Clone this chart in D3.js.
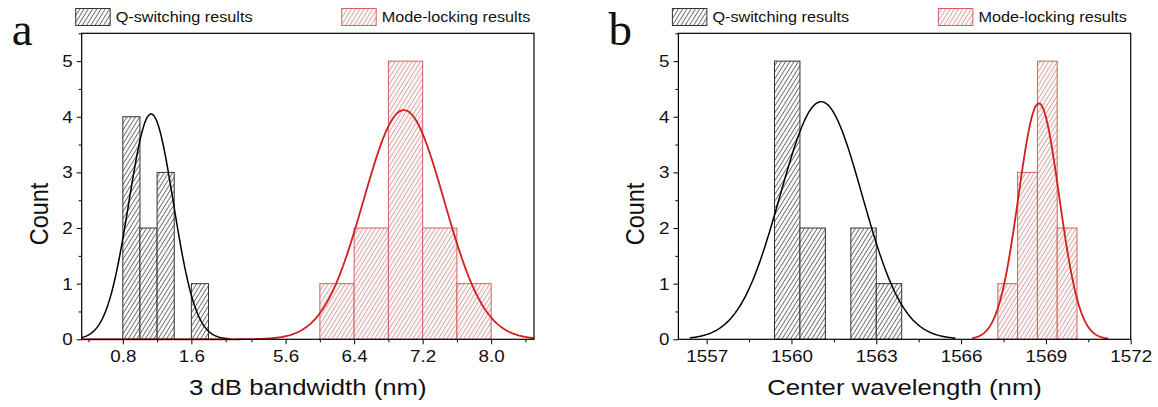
<!DOCTYPE html>
<html><head><meta charset="utf-8">
<script src="https://cdn.jsdelivr.net/npm/d3@7"></script>
<style>body{margin:0;background:#fff} svg{display:block}</style>
</head><body>
<svg id="c" width="1158" height="407"></svg>
<script>
// ---------- data ----------
const bwQEdges = [0.8, 1.0, 1.2, 1.4, 1.6, 1.8];
const bwQCounts = [4, 2, 3, 0, 1];
const bwMEdges = [6.0, 6.4, 6.8, 7.2, 7.6, 8.0];
const bwMCounts = [1, 2, 5, 2, 1];
const wlQEdges = [1559.4, 1560.3, 1561.2, 1562.1, 1563.0, 1563.9];
const wlQCounts = [5, 2, 0, 2, 1];
const wlMEdges = [1567.3, 1568.0, 1568.7, 1569.4, 1570.1];
const wlMCounts = [1, 3, 5, 2];
// Gaussian fit parameters: [center, sigma, amplitude, xStart, xEnd]
const bwQFit = [1.13, 0.26, 4.05, 0.32, 2.05];
const bwMFit = [6.98, 0.47, 4.12, 0.32, 8.5];
const wlQFit = [1561.05, 1.45, 4.27, 1556.4, 1565.8];
const wlMFit = [1568.75, 0.72, 4.24, 1566.4, 1571.2];
const yTicks = [0, 1, 2, 3, 4, 5];
const yMinor = [0.5, 1.5, 2.5, 3.5, 4.5, 5.5];
const bwTicks = [0.8, 1.6, 5.6, 6.4, 7.2, 8.0];
const bwMinor = [0.4, 1.2, 2.0, 5.2, 6.0, 6.8, 7.6, 8.4];
const wlTicks = [1557, 1560, 1563, 1566, 1569, 1572];
const wlMinor = [1558.5, 1561.5, 1564.5, 1567.5, 1570.5];
const legendLabels = ["Q-switching results", "Mode-locking results"];
const panelLabels = ["a", "b"];
const xTitles = ["3 dB bandwidth (nm)", "Center wavelength (nm)"];
const yTitle = "Count";

// ---------- layout ----------
const svg = d3.select("#c");
const TOP = 33.3, BOTTOM = 339.3;
const SX = 1.12; // horizontal text stretch
const FONT = "Arial, 'Liberation Sans', sans-serif";
const RED = "#d21f1f";

const defs = svg.append("defs");
function hatch(id, bg, stroke, sw) {
  const p = defs.append("pattern").attr("id", id).attr("patternUnits", "userSpaceOnUse")
    .attr("width", 3.6).attr("height", 10).attr("patternTransform", "rotate(32)");
  p.append("rect").attr("width", 3.6).attr("height", 10).attr("fill", bg);
  p.append("line").attr("x1", 0.4).attr("x2", 0.4).attr("y1", 0).attr("y2", 10)
    .attr("stroke", stroke).attr("stroke-width", sw);
}
hatch("hq", "#fafafa", "#3a3a3a", 0.75);
hatch("hm", "#fff7f7", "#b07070", 0.6);

const y = d3.scaleLinear().domain([0, 5.5]).range([BOTTOM, TOP]);

const panels = [
  {
    left: 81.7, right: 534, label: panelLabels[0], title: xTitles[0],
    x: d3.scaleLinear().domain([0.32, 2.15, 5.05, 8.5]).range([81.7, 238.5, 238.5, 534]),
    segs: [[0.32, 2.15], [5.05, 8.5]],
    ticks: bwTicks, minor: bwMinor, fmt: d3.format(".1f"),
    q: [bwQEdges, bwQCounts, bwQFit], m: [bwMEdges, bwMCounts, bwMFit]
  },
  {
    left: 678.4, right: 1130.7, label: panelLabels[1], title: xTitles[1],
    x: d3.scaleLinear().domain([1556, 1572]).range([678.4, 1130.7]),
    segs: [[1556, 1572]],
    ticks: wlTicks, minor: wlMinor, fmt: d3.format("d"),
    q: [wlQEdges, wlQCounts, wlQFit], m: [wlMEdges, wlMCounts, wlMFit]
  }
];

function stretchText(sel) {
  sel.attr("transform", `scale(${SX},1)`);
}

panels.forEach(P => {
  const g = svg.append("g");
  const x = P.x;

  // bars
  function bars(spec, fill, stroke) {
    const [edges, counts] = spec;
    const data = counts.map((c, i) => ({x0: edges[i], x1: edges[i + 1], c})).filter(d => d.c > 0);
    g.selectAll(null).data(data).enter().append("rect")
      .attr("x", d => x(d.x0)).attr("width", d => x(d.x1) - x(d.x0))
      .attr("y", d => y(d.c)).attr("height", d => y(0) - y(d.c))
      .attr("fill", fill).attr("stroke", stroke).attr("stroke-width", 1);
  }
  bars(P.q, "url(#hq)", "#333");
  bars(P.m, "url(#hm)", "#d46060");

  // fit curves
  function curve(fit, color, w) {
    const [c, s, a, xs, xe] = fit;
    const pts = [];
    P.segs.forEach(([s0, s1]) => {
      const lo = Math.max(s0, xs), hi = Math.min(s1, xe);
      if (hi <= lo) return;
      const n = 200;
      for (let i = 0; i <= n; i++) {
        const v = lo + (hi - lo) * i / n;
        pts.push([v, a * Math.exp(-((v - c) ** 2) / (2 * s * s))]);
      }
    });
    g.append("path").datum(pts)
      .attr("d", d3.line().x(d => x(d[0])).y(d => y(d[1])))
      .attr("fill", "none").attr("stroke", color).attr("stroke-width", w);
  }
  curve(P.q[2], "#000", 1.5);
  curve(P.m[2], RED, 1.8);

  // frame
  g.append("rect").attr("x", P.left).attr("y", TOP)
    .attr("width", P.right - P.left).attr("height", BOTTOM - TOP)
    .attr("fill", "none").attr("stroke", "#000").attr("stroke-width", 1.2);

  // x axis
  const xa = g.append("g").attr("transform", `translate(0,${BOTTOM})`)
    .call(d3.axisBottom(x).tickValues(P.ticks).tickFormat(P.fmt).tickSize(5).tickPadding(6));
  const xm = g.append("g").attr("transform", `translate(0,${BOTTOM})`)
    .call(d3.axisBottom(x).tickValues(P.minor).tickFormat("").tickSize(3));
  // y axis
  const ya = g.append("g").attr("transform", `translate(${P.left},0)`)
    .call(d3.axisLeft(y).tickValues(yTicks).tickFormat(d3.format("d")).tickSize(5).tickPadding(3));
  const ym = g.append("g").attr("transform", `translate(${P.left},0)`)
    .call(d3.axisLeft(y).tickValues(yMinor).tickFormat("").tickSize(3));
  [xa, xm, ya, ym].forEach(a => {
    a.select(".domain").remove();
    a.selectAll("line").attr("stroke", "#000").attr("stroke-width", 1);
    a.selectAll("text").attr("font-family", FONT).attr("font-size", 16.8).attr("fill", "#111");
  });
  stretchText(xa.selectAll("text"));
  stretchText(ya.selectAll("text"));

  // titles
  g.append("text").attr("transform", `translate(${(P.left + P.right) / 2},395) scale(${SX},1)`)
    .attr("text-anchor", "middle").attr("font-family", FONT).attr("font-size", 23)
    .attr("fill", "#111").text(P.title);
  g.append("text").attr("transform", `translate(${P.left - 34},214) scale(${SX},1) rotate(-90)`)
    .attr("text-anchor", "middle").attr("font-family", FONT).attr("font-size", 23.5)
    .attr("fill", "#111").text(yTitle);

  // panel label
  g.append("text").attr("x", P.left - 70).attr("y", 45)
    .attr("font-family", "'Liberation Serif', 'Times New Roman', serif").attr("font-size", 47)
    .attr("fill", "#111").text(P.label);

  // legend
  const legs = [
    {x: P.left - 6, fill: "url(#hq)", stroke: "#333", text: legendLabels[0]},
    {x: P.right - 192.3, fill: "url(#hm)", stroke: "#d46060", text: legendLabels[1]}
  ];
  legs.forEach(L => {
    g.append("rect").attr("x", L.x).attr("y", 8.5).attr("width", 34.5).attr("height", 17)
      .attr("fill", L.fill).attr("stroke", L.stroke).attr("stroke-width", 1);
    g.append("text").attr("transform", `translate(${L.x + 40},22) scale(1.08,1)`)
      .attr("font-family", FONT).attr("font-size", 15).attr("fill", "#111").text(L.text);
  });
});
</script>
</body></html>
